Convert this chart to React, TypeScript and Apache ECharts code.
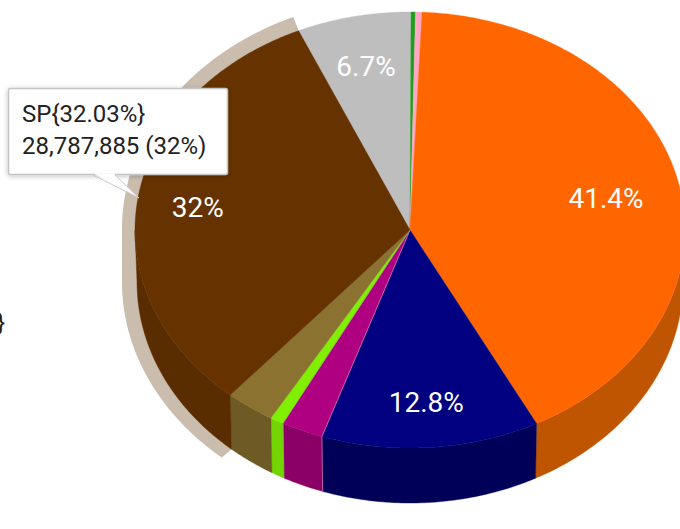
import React, { useEffect, useRef } from "react";
import * as echarts from "echarts";

const sliceNames = ["Grey", "Green", "Pink", "Orange", "Navy", "Magenta", "Lime", "Olive", "SP"];
// Shares of the whole pie in percent, clockwise from the segment left of twelve o'clock.
const sliceShares = [6.7, 0.26, 0.38, 41.7, 12.8, 2.45, 0.8, 2.9, 32.03];
const sliceLabels = ["6.7%", "", "", "41.4%", "12.8%", "", "", "", "32%"];
const topColors = ["#BEBEBE", "#1E9F1E", "#FFA6C4", "#FF6600", "#000080", "#AE0080", "#80F000", "#8B7230", "#663300"];
const wallColors = ["#999999", "#187F18", "#CC85A0", "#BF5500", "#000058", "#8A0066", "#72D400", "#6D5A24", "#5A2D00"];
const tooltipLines = ["SP{32.03%}", "28,787,885 (32%)"];
const selectedSlice = "SP";

const START_ANGLE = -23.9;
const CX = 410;
const CY = 230;
const RX = 275;
const RY = 218;
const BOTTOM_RX = 273;
const BOTTOM_RY = 221;
const BOTTOM_CY = 282;
const HALO_RX = 288;
const HALO_RY = 232;
const FONT = "Roboto";

const total = sliceShares.reduce((a, b) => a + b, 0);
const sliceAngles = (i: number): [number, number] => {
  const before = sliceShares.slice(0, i).reduce((a, b) => a + b, 0);
  return [
    START_ANGLE + (before / total) * 360,
    START_ANGLE + ((before + sliceShares[i]) / total) * 360,
  ];
};
const pt = (deg: number, rx: number, ry: number, cy: number, f = 1): number[] => {
  const t = (deg * Math.PI) / 180;
  return [CX + rx * f * Math.sin(t), cy - ry * f * Math.cos(t)];
};
const arc = (a: number, b: number, rx: number, ry: number, cy: number): number[][] => {
  const out: number[][] = [];
  const n = Math.max(2, Math.ceil(Math.abs(b - a) * 2));
  for (let k = 0; k <= n; k++) out.push(pt(a + ((b - a) * k) / n, rx, ry, cy));
  return out;
};

function edge(deg: number, color: string) {
  return {
    type: "polyline",
    z2: 5,
    shape: {
      points: [[CX, CY], pt(deg, RX, RY, CY), pt(deg, BOTTOM_RX, BOTTOM_RY, BOTTOM_CY)],
    },
    style: { fill: "none", stroke: color, lineWidth: 0.7 },
  };
}

function renderSlice(params: any) {
  const i = params.dataIndex;
  const [a, b] = sliceAngles(i);
  const children: any[] = [];
  const wa = Math.max(a, 90);
  const wb = Math.min(b, 270);
  if (wb > wa) {
    const pts = [
      ...arc(wa, wb, RX, RY, CY),
      ...arc(wb, wa, BOTTOM_RX, BOTTOM_RY, BOTTOM_CY),
    ];
    children.push({
      type: "polygon",
      shape: { points: pts },
      style: { fill: wallColors[i], stroke: wallColors[i], lineWidth: 0.4 },
    });
  }
  children.push({
    type: "polygon",
    shape: { points: [[CX, CY], ...arc(a, b, RX, RY, CY)] },
    style: { fill: topColors[i], stroke: topColors[i], lineWidth: 0.4 },
  });
  if (sliceNames[i] === "Magenta") {
    children.push(edge(a, "#D27CBC"));
    children.push(edge(b, "#8C8C8C"));
  }
  if (sliceLabels[i]) {
    const f = sliceNames[i] === "Orange" ? 0.73 : 0.78;
    const [x, y] = pt((a + b) / 2, RX, RY, CY, f);
    children.push({
      type: "text",
      z2: 6,
      x,
      y: y + 2.5,
      style: {
        text: sliceLabels[i],
        fill: "#FFFFFF",
        font: `400 28px ${FONT}`,
        align: "center",
        verticalAlign: "middle",
      },
    });
  }
  return { type: "group", children };
}

function renderHalo(params: any) {
  const i = sliceNames.indexOf(selectedSlice);
  const [a, b] = sliceAngles(i);
  const pts = [
    pt(a, BOTTOM_RX, BOTTOM_RY, BOTTOM_CY),
    ...arc(a, 270, HALO_RX, HALO_RY, BOTTOM_CY),
    ...arc(270, b, HALO_RX, HALO_RY, CY - 1),
    pt(b, RX, RY, CY),
    [CX, CY],
  ];
  return {
    type: "polygon",
    shape: { points: pts },
    style: { fill: "#CABDAE" },
  };
}

export default function App() {
  const ref = useRef<HTMLDivElement>(null);
  useEffect(() => {
    if (!ref.current) return;
    const chart = echarts.init(ref.current, undefined, { renderer: "svg" });
    chart.setOption({
      animation: false,
      backgroundColor: "#FFFFFF",
      series: [
        {
          type: "custom",
          coordinateSystem: "none",
          z: 1,
          silent: true,
          data: [sliceShares[sliceNames.indexOf(selectedSlice)]],
          renderItem: renderHalo,
        },
        {
          type: "custom",
          coordinateSystem: "none",
          z: 2,
          silent: true,
          data: sliceShares.map((v, i) => ({ name: sliceNames[i], value: v })),
          renderItem: renderSlice,
        },
      ],
      graphic: [
        {
          type: "rect",
          z: 10,
          shape: { x: 8.5, y: 88.5, width: 219, height: 86, r: 2 },
          style: {
            fill: "#FFFFFF",
            stroke: "#C4C4C4",
            lineWidth: 1.5,
            shadowBlur: 5,
            shadowColor: "rgba(0,0,0,0.25)",
            shadowOffsetY: 1,
          },
        },
        {
          type: "polygon",
          z: 11,
          shape: { points: [[94, 173.5], [139, 198], [114, 173.5]] },
          style: { fill: "#FFFFFF" },
        },
        {
          type: "polyline",
          z: 11,
          shape: { points: [[93, 175], [139, 198], [115, 175]] },
          style: { fill: "none", stroke: "#C9C9C9", lineWidth: 1 },
        },
        {
          type: "text",
          z: 12,
          x: 22,
          y: 114,
          style: {
            text: tooltipLines[0],
            fill: "#222222",
            font: `400 24px ${FONT}`,
            align: "left",
            verticalAlign: "middle",
          },
        },
        {
          type: "text",
          z: 12,
          x: 22,
          y: 146,
          style: {
            text: tooltipLines[1],
            fill: "#222222",
            font: `400 24px ${FONT}`,
            align: "left",
            verticalAlign: "middle",
          },
        },
        {
          type: "text",
          z: 12,
          x: 5,
          y: 323,
          style: {
            text: "}",
            fill: "#222222",
            font: `400 24px ${FONT}`,
            align: "right",
            verticalAlign: "middle",
          },
        },
      ],
    });
    return () => chart.dispose();
  }, []);
  return (
    <div
      ref={ref}
      style={{ position: "absolute", left: 0, top: 0, width: 680, height: 529 }}
    />
  );
}
